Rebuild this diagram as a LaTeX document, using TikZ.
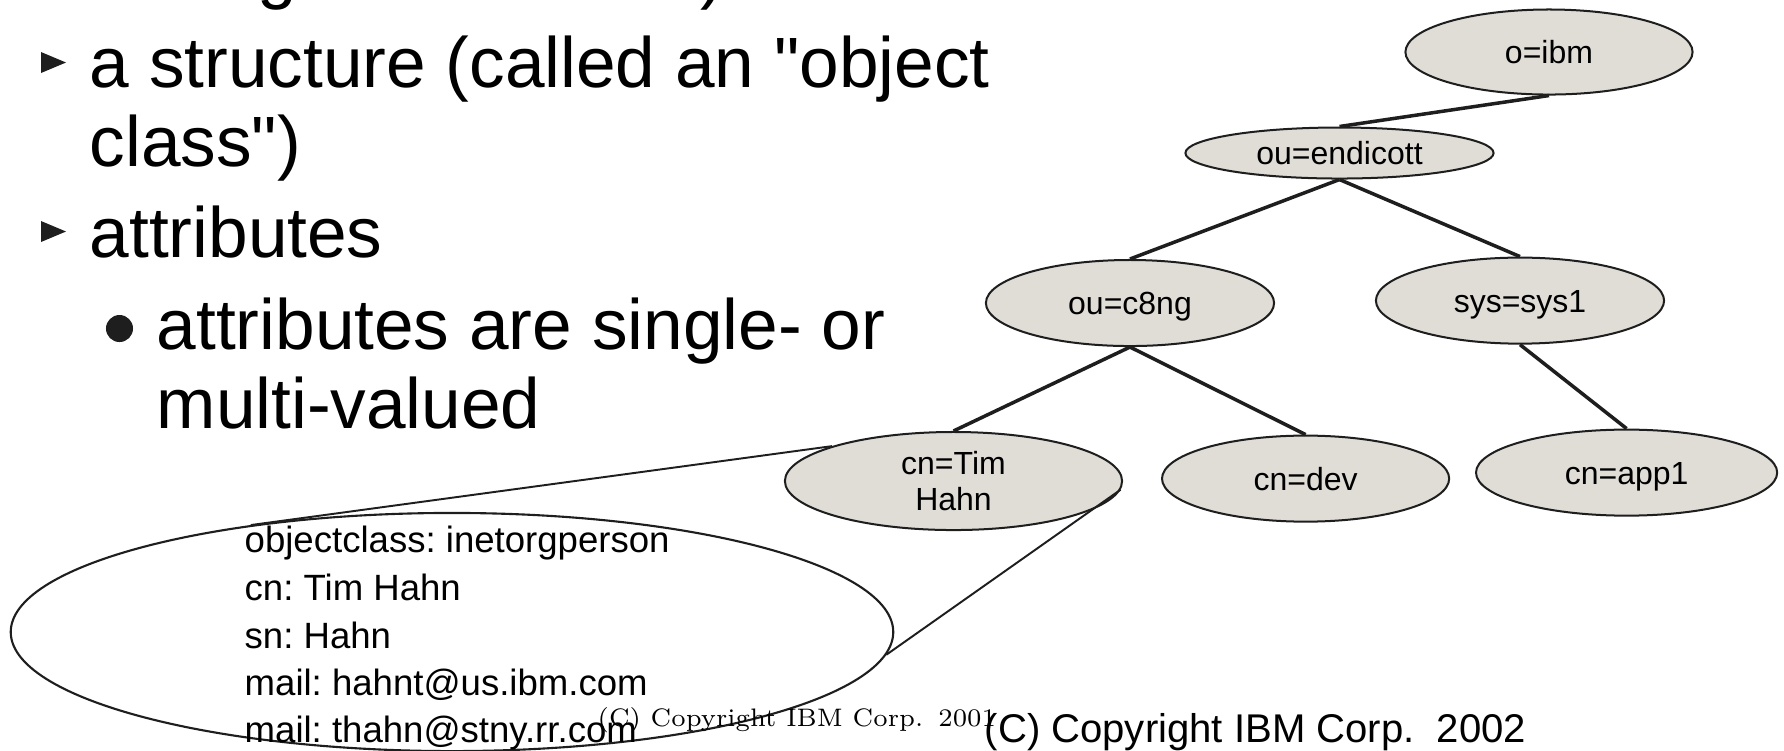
\documentclass[tikz,border=0pt]{standalone}
\usepackage{fontspec}
\newfontfamily\arial{Liberation Sans}
\usetikzlibrary{shapes.geometric}
\definecolor{nodefill}{RGB}{224,220,214}
\definecolor{ink}{RGB}{30,30,30}
\frenchspacing
\begin{document}
\begin{tikzpicture}[x=0.01cm,y=-0.01cm,
  dn/.style={ellipse,draw=ink,line width=0.57pt,fill=nodefill,inner sep=0pt,
    font=\arial\fontsize{9.1}{10.13}\selectfont,text height=6.6pt,text depth=0pt},
  tn/.style={ellipse,draw=ink,line width=0.57pt,fill=nodefill,inner sep=0pt,
    font=\arial\fontsize{9.1}{10.13}\selectfont,align=center},
  edgeline/.style={line width=1pt,draw=ink},
  thinline/.style={line width=0.55pt,draw=ink},
  big/.style={font=\arial\fontsize{20.25}{22.8}\selectfont,anchor=base west,inner sep=0pt},
  attrtext/.style={font=\arial\fontsize{10.4}{13.5}\selectfont,anchor=base west,inner sep=0pt}]
\useasboundingbox (0,0) rectangle (1784,750);

% left bullet text
\node[big] (top1) at (257,-5) {g};
\node[big] (top2) at (700,-5) {)};
\fill[ink] (41,52) -- (66,62.5) -- (41,73) -- cycle;
\node[big] (l1) at (89,87.6) {a structure (called an "object};
\node[big] (l2) at (89,166) {class")};
\fill[ink] (41,221) -- (66,231.5) -- (41,242) -- cycle;
\node[big] (l3) at (89,257) {attributes};
\fill[ink] (119.5,328.5) circle (0.135cm);
\node[big] (l4) at (156,349) {attributes are single- or};
\node[big] (l5) at (156,428) {multi-valued};

% tree
\node[dn,minimum width=2.87cm,minimum height=0.85cm] (ibm) at (1549,52) {o=ibm};
\node[dn,minimum width=3.08cm,minimum height=0.51cm] (endi) at (1339.5,153) {ou=endicott};
\node[dn,minimum width=2.88cm,minimum height=0.86cm] (c8ng) at (1130,303) {ou=c8ng};
\node[dn,minimum width=2.88cm,minimum height=0.86cm] (sys1) at (1520,300.6) {sys=sys1};
\node[tn,minimum width=3.37cm,minimum height=0.98cm] (tim) at (953.5,481) {cn=Tim\\Hahn};
\node[dn,minimum width=2.87cm,minimum height=0.86cm] (dev) at (1305.6,478.6) {cn=dev};
\node[dn,minimum width=3.01cm,minimum height=0.86cm] (app1) at (1626.6,472.6) {cn=app1};

\draw[edgeline] (ibm.south) -- (endi.north);
\draw[edgeline] (endi.south) -- (c8ng.north);
\draw[edgeline] (endi.south) -- (sys1.north);
\draw[edgeline] (c8ng.south) -- (tim.north);
\draw[edgeline] (c8ng.south) -- (dev.north);
\draw[edgeline] (sys1.south) -- (app1.north);

% attribute bubble
\node[ellipse,draw=ink,line width=0.6pt,inner sep=0pt,minimum width=8.82cm,minimum height=2.38cm] (attr) at (452,632) {};
\draw[thinline] (tim.164) -- (attr.152.6);
\draw[thinline] (tim.-3) -- (attr.-3.7);
\node[attrtext] (a1) at (244,552) {objectclass: inetorgperson};
\node[attrtext] (a2) at (244,600) {cn: Tim Hahn};
\node[attrtext] (a3) at (244,648) {sn: Hahn};
\node[attrtext] (a4) at (244,695) {mail: hahnt@us.ibm.com};
\node[attrtext] (a5) at (244,742) {mail: thahn@stny.rr.com};

% copyright
\node[anchor=base west,inner sep=0pt,font=\fontsize{7.2}{9}\selectfont] (c1) at (597,726) {(C) Copyright IBM Corp.\hspace{0.6em}2001};
\node[anchor=base west,inner sep=0pt,font=\arial\fontsize{11.4}{13}\selectfont] (c2) at (984,742) {(C) Copyright IBM Corp.\ \ 2002};
\end{tikzpicture}
\end{document}
